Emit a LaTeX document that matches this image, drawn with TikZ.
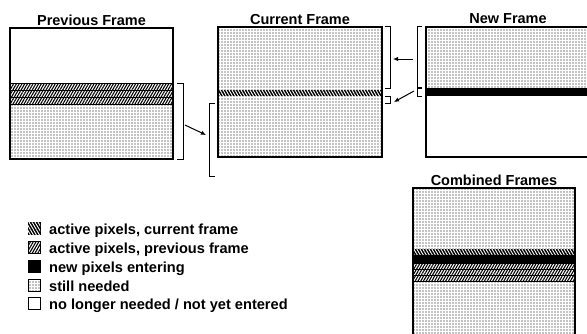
\documentclass[tikz,border=0pt]{standalone}
\usepackage{fontspec}
\setmainfont{Liberation Sans}
\usetikzlibrary{patterns, patterns.meta, arrows.meta, positioning}

\begin{document}
\begin{tikzpicture}[x=1pt, y=-1pt,
  frm/.style={draw, line width=1.1pt},
  ttl/.style={font=\fontsize{14.5}{17}\selectfont\bfseries, anchor=base, inner sep=0pt},
  lbl/.style={font=\fontsize{14.6}{17}\selectfont\bfseries, anchor=base west, inner sep=0pt},
  still/.style={pattern={Dots[radius=0.6pt, distance=3pt]}},
  prevpix/.style={fill=white, postaction={pattern={Lines[angle=60, distance=2.4pt, line width=1.1pt]}}},
  curpix/.style={fill=black, postaction={pattern={Lines[angle=-60, distance=2.6pt, line width=0.9pt]}, pattern color=white}},
  newpix/.style={fill=black},
  brk/.style={draw, line width=0.9pt},
  arr/.style={-{Latex[length=5pt, width=4.5pt]}, line width=1pt},
  key/.style={draw, line width=0.9pt, minimum size=12pt, inner sep=0pt}]
\useasboundingbox (0,0) rectangle (587,333);

% previous frame
\path[still] (10,104) rectangle (173,159);
\foreach \y in {83,90,97} \path[prevpix] (10,\y) rectangle (173,\y+7);
\foreach \y in {83,90,97,104} \draw[line width=0.9pt] (10,\y) -- (173,\y);
\draw[frm] (10,28) rectangle (173,159);
\node[ttl] (tprev) at (91.5,25) {Previous Frame};

% current frame
\path[still] (218,27) rectangle (382,157);
\path[curpix] (218,90) rectangle (382,96);
\draw[frm] (218,27) rectangle (382,157);
\node[ttl] (tcur) at (300,24) {Current Frame};

% new frame
\path[still] (426,27) rectangle (590,88);
\path[newpix] (426,88) rectangle (590,96);
\draw[frm] (426,27) rectangle (590,157);
\node[ttl] (tnew) at (508,23) {New Frame};

% combined frames
\path[still] (413,188) rectangle (575,340);
\path[curpix] (413,249) rectangle (575,255);
\path[newpix] (413,255) rectangle (575,263);
\foreach \y in {263,269,275} \path[prevpix] (413,\y) rectangle (575,\y+6);
\foreach \y in {263,269,275,281} \draw[line width=0.8pt] (413,\y) -- (575,\y);
\draw[frm] (413,188) rectangle (575,340);
\node[ttl] (tcomb) at (494,185) {Combined Frames};

% brackets
\draw[brk] (177,83) -- (183,83) -- (183,159) -- (177,159);
\draw[brk] (215,103) -- (209,103) -- (209,176) -- (215,176);
\draw[brk] (385,26) -- (390,26) -- (390,88) -- (385,88);
\draw[brk] (385,96) -- (390,96) -- (390,103) -- (385,103);
\draw[brk] (422,26) -- (417,26) -- (417,87) -- (422,87);
\draw[brk] (422,88) -- (417,88) -- (417,96) -- (422,96);

% arrows
\coordinate (pa) at (185,125);
\coordinate (pb) at (206,135);
\coordinate (na) at (413,59);
\coordinate (nb) at (393,59);
\coordinate (sa) at (414,91);
\coordinate (sb) at (394,102);
\draw[arr] (pa) -- (pb);
\draw[arr] (na) -- (nb);
\draw[arr] (sa) -- (sb);

% legend
\node[key, curpix] (k1) at (34,228) {};
\node[lbl] (l1) at (49,234) {active pixels, current frame};
\node[key, prevpix] (k2) at (34,247) {};
\node[lbl] (l2) at (49,253) {active pixels, previous frame};
\node[key, newpix] (k3) at (34,266) {};
\node[lbl] (l3) at (49,272) {new pixels entering};
\node[key, still] (k4) at (34,285) {};
\node[lbl] (l4) at (49,291) {still needed};
\node[key] (k5) at (34,303) {};
\node[lbl] (l5) at (49,309) {no longer needed / not yet entered};
\end{tikzpicture}
\end{document}
